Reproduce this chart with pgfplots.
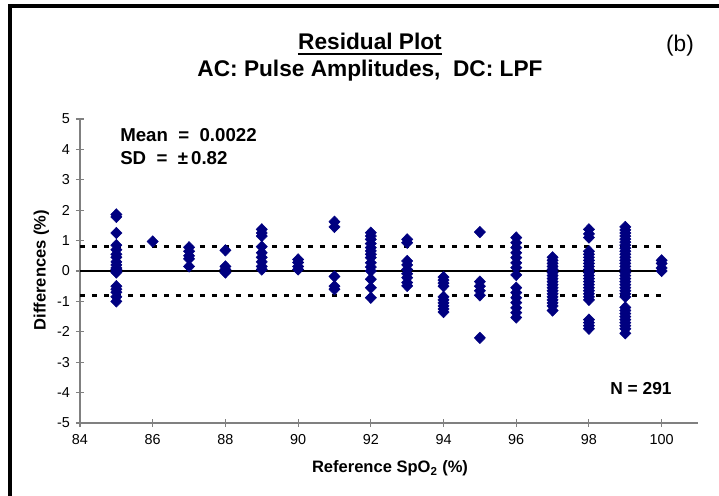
\documentclass[border=0pt]{standalone}
\usepackage{pgfplots}
\pgfplotsset{compat=1.18}
\usepackage{pgfplotstable}
\usepackage{fontspec}
\setmainfont{Liberation Sans}
\definecolor{navy}{HTML}{000080}
\definecolor{axgray}{HTML}{808080}

\pgfplotstableread{
x y
85 1.86
85 1.78
85 1.25
85 0.85
85 0.70
85 0.55
85 0.45
85 0.30
85 0.20
85 0.10
85 0.05
85 0.00
85 -0.05
85 -0.50
85 -0.60
85 -0.70
85 -0.85
85 -1.00
86 0.97
87 0.78
87 0.65
87 0.50
87 0.40
87 0.15
88 0.68
88 0.15
88 0.05
88 -0.05
89 1.37
89 1.25
89 1.15
89 0.80
89 0.60
89 0.45
89 0.30
89 0.15
89 0.05
90 0.38
90 0.28
90 0.15
90 0.05
91 1.62
91 1.45
91 -0.18
91 -0.50
91 -0.60
92 1.26
92 1.15
92 1.04
92 0.90
92 0.77
92 0.66
92 0.55
92 0.44
92 0.27
92 0.13
92 0.00
92 -0.27
92 -0.55
92 -0.88
93 1.04
93 0.93
93 0.33
93 0.20
93 0.05
93 -0.09
93 -0.22
93 -0.38
93 -0.49
94 -0.20
94 -0.30
94 -0.40
94 -0.50
94 -0.85
94 -0.95
94 -1.05
94 -1.15
94 -1.25
94 -1.35
95 1.28
95 -0.35
95 -0.50
95 -0.65
95 -0.80
95 -2.20
96 1.10
96 0.93
96 0.77
96 0.60
96 0.44
96 0.27
96 0.11
96 -0.13
96 -0.55
96 -0.71
96 -0.88
96 -1.04
96 -1.21
96 -1.37
96 -1.53
97 0.45
97 0.35
97 0.25
97 0.15
97 0.05
97 -0.05
97 -0.15
97 -0.25
97 -0.35
97 -0.45
97 -0.55
97 -0.65
97 -0.75
97 -0.85
97 -0.95
97 -1.05
97 -1.15
97 -1.30
98 1.37
98 1.22
98 1.10
98 0.65
98 0.55
98 0.45
98 0.35
98 0.25
98 0.15
98 0.05
98 -0.05
98 -0.15
98 -0.25
98 -0.35
98 -0.45
98 -0.55
98 -0.65
98 -0.75
98 -0.85
98 -0.95
98 -1.60
98 -1.70
98 -1.80
98 -1.90
99 1.45
99 1.35
99 1.25
99 1.15
99 1.05
99 0.95
99 0.85
99 0.75
99 0.65
99 0.55
99 0.45
99 0.35
99 0.25
99 0.15
99 0.05
99 -0.05
99 -0.15
99 -0.25
99 -0.35
99 -0.45
99 -0.55
99 -0.65
99 -0.75
99 -0.85
99 -1.20
99 -1.30
99 -1.40
99 -1.50
99 -1.60
99 -1.70
99 -1.80
99 -1.90
99 -2.05
100 0.35
100 0.25
100 0.10
100 0.00
}\resdata

\begin{document}
\begin{tikzpicture}
\useasboundingbox (-60pt,-54.75pt) rectangle (479.25pt,317.25pt);
\begin{axis}[
  at={(0,0)}, anchor=south west,
  scale only axis,
  width=463.5pt, height=228pt,
  xmin=84, xmax=101, ymin=-5, ymax=5,
  xtick={84,86,...,100}, ytick={-5,-4,...,5},
  axis lines=left,
  axis line style={-, axgray, line width=0.8pt},
  tick style={axgray, line width=0.8pt},
  tick align=center,
  major tick length=6pt,
  ticklabel style={font=\fontsize{10.8}{12}\selectfont, text=black},
  /pgf/number format/assume math mode=true,
  xticklabel style={yshift=-2pt},
  yticklabel style={xshift=-1pt},
  clip=false,
]
\addplot[black, line width=1.3pt] coordinates {(84,0) (100,0)};
\addplot[black, line width=2.2pt, dash pattern=on 3.75pt off 5.25pt] coordinates {(84,0.82) (100,0.82)};
\addplot[black, line width=2.2pt, dash pattern=on 3.75pt off 5.25pt] coordinates {(84,-0.82) (100,-0.82)};
\addplot[only marks, mark=diamond*, mark size=4.3pt, color=navy,
  mark options={fill=navy, draw=navy, xscale=1.3}] table[x=x, y=y] {\resdata};
\end{axis}
% frame
\draw[black, line width=3pt] (-52.5pt,-54.75pt) -- (-52.5pt,312.75pt) -- (479.25pt,312.75pt);
% titles
\node[anchor=base, font=\fontsize{17}{20}\selectfont\bfseries, inner sep=0pt] (t1) at (217.5pt,279.75pt) {Residual Plot};
\draw[black, line width=1.6pt] ([yshift=-3pt]t1.base west) -- ([yshift=-3pt]t1.base east);
\node[anchor=base, font=\fontsize{17}{20}\selectfont\bfseries, inner sep=0pt] at (217.5pt,259.5pt) {AC: Pulse Amplitudes,\ \ DC: LPF};
\node[anchor=base, font=\fontsize{17}{20}\selectfont, inner sep=0pt] at (450pt,278.25pt) {(b)};
% stats
\node[anchor=base west, font=\fontsize{14}{16}\selectfont\bfseries, inner sep=0pt] at (30pt,210.75pt) {Mean\ \ =\ \ 0.0022};
\node[anchor=base west, font=\fontsize{14}{16}\selectfont\bfseries, inner sep=0pt] at (30pt,193.5pt) {SD\ \ =\ \ ±\,0.82};
\node[anchor=base, font=\fontsize{13}{15}\selectfont\bfseries, inner sep=0pt] at (420.75pt,21pt) {N = 291};
% axis labels
\node[rotate=90, anchor=center, font=\fontsize{12.4}{14}\selectfont\bfseries, inner sep=0pt] at (-29pt,114.75pt) {Differences (\%)};
\node[anchor=base, font=\fontsize{12.4}{14}\selectfont\bfseries, inner sep=0pt] at (232.5pt,-37.5pt) {Reference SpO\textsubscript{2} (\%)};
\end{tikzpicture}
\end{document}
